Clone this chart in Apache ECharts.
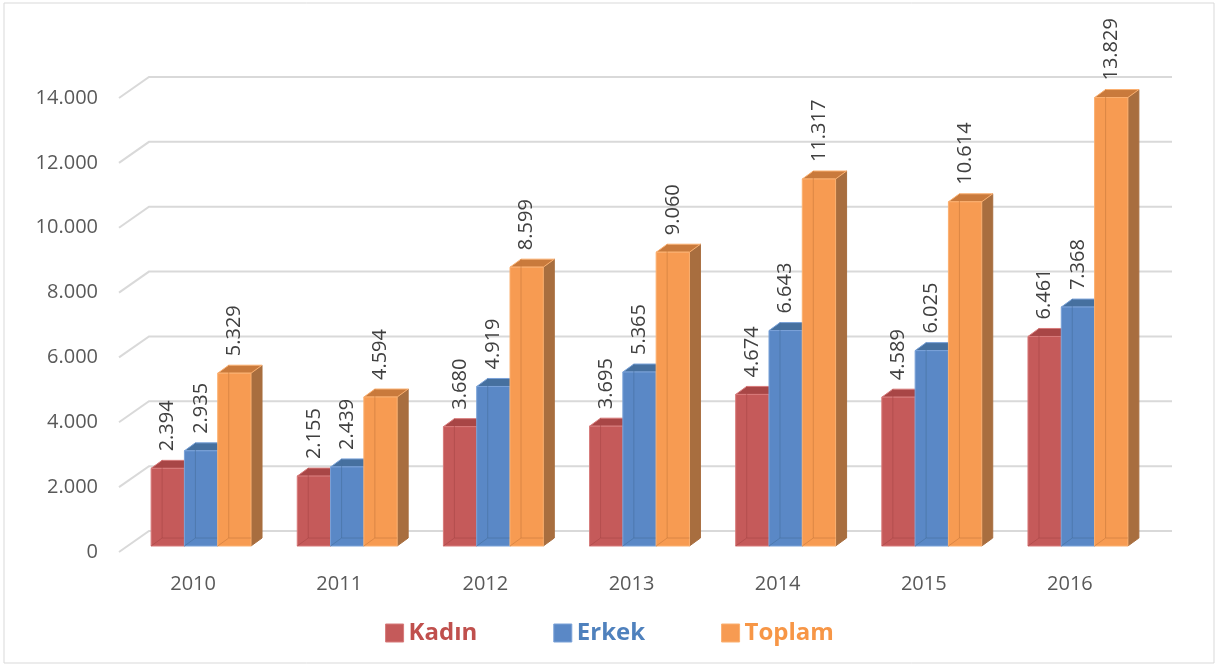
<!DOCTYPE html>
<html>
<head>
<meta charset="utf-8">
<script src="https://cdn.jsdelivr.net/npm/echarts@6/dist/echarts.min.js"></script>
<style>
  html, body { margin: 0; padding: 0; background: #fff; }
  #chart { width: 1219px; height: 666px; }
</style>
</head>
<body>
<div id="chart"></div>
<script>
const years = ['2010', '2011', '2012', '2013', '2014', '2015', '2016']
const kadin = [2394, 2155, 3680, 3695, 4674, 4589, 6461]
const erkek = [2935, 2439, 4919, 5365, 6643, 6025, 7368]
const toplam = [5329, 4594, 8599, 9060, 11317, 10614, 13829]
const yTicks = [0, 2000, 4000, 6000, 8000, 10000, 12000, 14000]

const font = '"Open Sans", "Liberation Sans", sans-serif'
const fmt = v => String(v).replace(/\B(?=(\d{3})+(?!\d))/g, '.')

// 3d look: wall offset, bar offset into floor, bar depth
const WALL = [29, -21]
const BAR_OFF = [8, -6]
const DEPTH = [11, -8]
const BAR_W = 33.3

const seriesDefs = [
    { name: 'Kadın', data: kadin, front: '#c55a5a', top: '#a84646', side: '#8f3a3a', edge: '#d77a7a', text: '#c0504d' },
    { name: 'Erkek', data: erkek, front: '#5a88c6', top: '#46709f', side: '#3b5f8a', edge: '#7aa2d8', text: '#4f81bd' },
    { name: 'Toplam', data: toplam, front: '#f79b52', top: '#c97a3c', side: '#a86e3f', edge: '#fbb070', text: '#f79646' }
]

const chart = echarts.init(document.getElementById('chart'))

// back wall gridlines + diagonal ticks
const wallSeries = {
    type: 'custom',
    silent: true,
    z: 1,
    data: yTicks.map(v => [0, v]),
    renderItem: (params, api) => {
        const p = api.coord([0, api.value(1)])
        const band = api.size([1, 0])[0]
        const x0 = p[0] - band / 2
        const x1 = x0 + band * 7 + WALL[0]
        return {
            type: 'polyline',
            shape: { points: [[x0 - 1, p[1]], [x0 + WALL[0], p[1] + WALL[1]], [x1, p[1] + WALL[1]]] },
            style: { stroke: '#d9d9d9', lineWidth: 2, fill: null }
        }
    }
}

const barSeries = seriesDefs.map((s, si) => ({
    name: s.name,
    type: 'custom',
    z: 3,
    data: s.data.map((v, i) => [i, v]),
    renderItem: (params, api) => {
        const idx = api.value(0)
        const val = api.value(1)
        const top = api.coord([idx, val])
        const bot = api.coord([idx, 0])
        const xl = top[0] - BAR_W * 1.5 + si * BAR_W + BAR_OFF[0]
        const xr = xl + BAR_W
        const yt = top[1] + BAR_OFF[1]
        const yb = bot[1] + BAR_OFF[1]
        const dx = DEPTH[0], dy = DEPTH[1]
        return {
            type: 'group',
            children: [
                {
                    type: 'polygon',
                    shape: { points: [[xr, yb], [xr + dx, yb + dy], [xr + dx, yt + dy], [xr, yt]] },
                    style: { fill: s.side, stroke: s.side, lineWidth: 1 }
                },
                {
                    type: 'polygon',
                    shape: { points: [[xl, yt], [xl + dx, yt + dy], [xr + dx, yt + dy], [xr, yt]] },
                    style: { fill: s.top, stroke: s.edge, lineWidth: 1 }
                },
                {
                    type: 'rect',
                    shape: { x: xl, y: yt, width: BAR_W, height: yb - yt },
                    style: { fill: s.front, stroke: s.edge, lineWidth: 1 }
                },
                {
                    type: 'polyline',
                    shape: { points: [[xl + dx, yt + dy], [xl + dx, yb + dy], [xr, yb + dy]] },
                    style: { stroke: s.top, lineWidth: 1, opacity: 0.6, fill: null }
                },
                {
                    type: 'polyline',
                    shape: { points: [[xl, yb], [xl + dx, yb + dy]] },
                    style: { stroke: s.top, lineWidth: 1, opacity: 0.6, fill: null }
                },
                {
                    type: 'text',
                    x: xl + BAR_W / 2,
                    y: yt - 17,
                    rotation: Math.PI / 2,
                    style: {
                        text: fmt(val),
                        fill: '#404040',
                        font: '20px ' + font,
                        align: 'left',
                        verticalAlign: 'middle'
                    }
                }
            ]
        }
    }
}))

const option = {
    animation: false,
    backgroundColor: '#ffffff',
    grid: { left: 120, right: 76, top: 98, bottom: 114 },
    legend: {
        bottom: 16,
        left: 'center',
        itemWidth: 18,
        itemHeight: 18,
        itemGap: 76,
        icon: 'rect',
        data: seriesDefs.map(s => ({
            name: s.name,
            itemStyle: { color: s.front, borderColor: s.edge, borderWidth: 1 },
            textStyle: { color: s.text }
        })),
        textStyle: { fontSize: 24, fontWeight: 'bold', fontFamily: font }
    },
    xAxis: {
        type: 'category',
        data: years,
        axisLine: { show: false },
        axisTick: { show: false },
        splitLine: { show: false },
        axisLabel: { color: '#595959', fontSize: 20, fontFamily: font, margin: 22 }
    },
    yAxis: {
        type: 'value',
        min: 0,
        max: 14000,
        interval: 2000,
        axisLine: { show: false },
        axisTick: { show: false },
        splitLine: { show: false },
        axisLabel: { color: '#595959', fontSize: 20, fontFamily: font, margin: 22, formatter: v => fmt(v) }
    },
    graphic: [{
        type: 'rect',
        shape: { x: 4, y: 3, width: 1210, height: 660 },
        style: { fill: null, stroke: '#d9d9d9', lineWidth: 1 },
        silent: true
    }],
    series: [wallSeries, ...barSeries]
}

chart.setOption(option)
window.addEventListener('resize', () => chart.resize())
</script>
</body>
</html>
